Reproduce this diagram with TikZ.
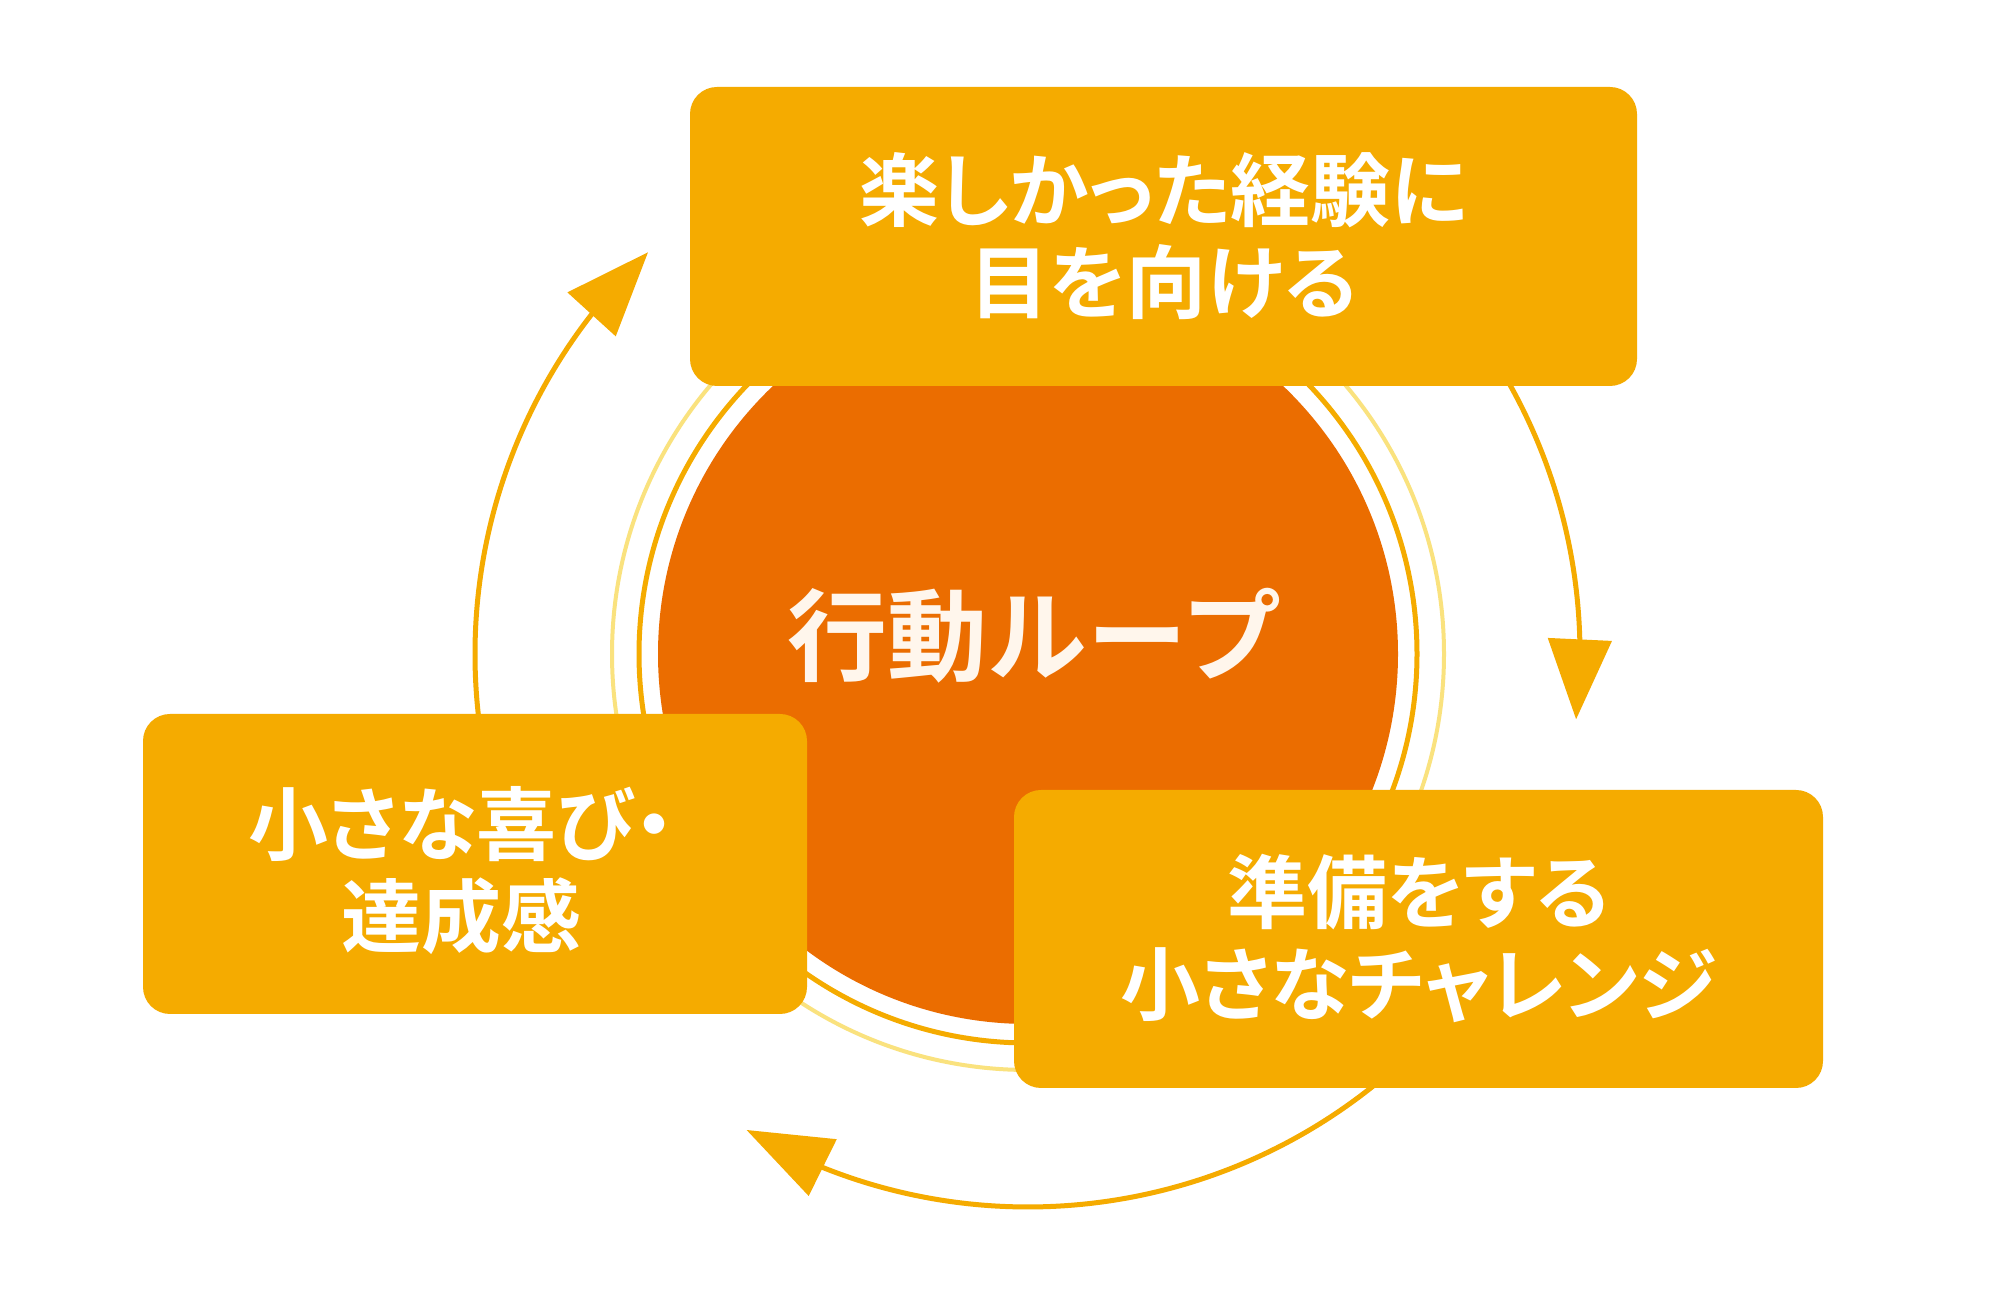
\documentclass[tikz,border=0pt]{standalone}
\usepackage{fontspec}
\newfontfamily\jp{Noto Sans CJK JP}[BoldFont={Noto Sans CJK JP Bold}]
\newfontfamily\jpp{Noto Sans CJK JP}[BoldFont={Noto Sans CJK JP Bold},RawFeature={+palt}]
\usetikzlibrary{arrows.meta,bending}
\definecolor{discorange}{HTML}{EB6D00}
\definecolor{boxgold}{HTML}{F5AB00}
\definecolor{lightring}{HTML}{FAE27E}
\definecolor{cream}{HTML}{FFF6EC}
\begin{document}
\begin{tikzpicture}[x=1pt,y=1pt,
  box/.style={fill=boxgold, rounded corners=27pt, inner sep=0pt},
  boxtext/.style={text=white, font=\jpp\bfseries\fontsize{80}{92}\selectfont, align=center, inner sep=0pt},
  loopline/.style={draw=boxgold, line width=5pt},
 ]
\fill[white] (0,0) rectangle (2000,1316);
\useasboundingbox (0,0) rectangle (2000,1316);
\coordinate (C) at (1028,662);
% rings and disc
\draw[lightring, line width=4pt] (C) circle[radius=416];
\draw[boxgold, line width=5pt] (C) circle[radius=389];
\fill[discorange] (C) circle[radius=370];
\node[text=cream, font=\jp\bfseries\fontsize{100}{110}\selectfont, inner sep=0pt] (title) at (1034,680) {行動ループ};
% loop arrows
\draw[loopline, -{Triangle[length=84pt,width=64pt,flex]}] ([shift={(190:553)}]C) arc[start angle=190,end angle=133.4,radius=553];
\draw[loopline, -{Triangle[length=80pt,width=63pt,flex]}] ([shift={(32:552)}]C) arc[start angle=32,end angle=-6.8,radius=552];
\draw[loopline, -{Triangle[length=85pt,width=62pt,flex]}] ([shift={(312:553)}]C) arc[start angle=312,end angle=239.4,radius=553];
% boxes
\node[box, minimum width=947pt, minimum height=299pt] (top) at (1163.5,1079.5) {};
\node[box, minimum width=664pt, minimum height=300pt] (left) at (475,452) {};
\node[box, minimum width=809pt, minimum height=298pt] (right) at (1418.5,377) {};
\node[boxtext] (toptext) at (top.center) {楽しかった経験に\\目を向ける};
\node[boxtext] (lefttext) at ([xshift=-14pt,yshift=-7pt]left.center) {小さな喜び・\\達成感};
\node[boxtext] (righttext) at (right.center) {準備をする\\小さなチャレンジ};
\end{tikzpicture}
\end{document}
